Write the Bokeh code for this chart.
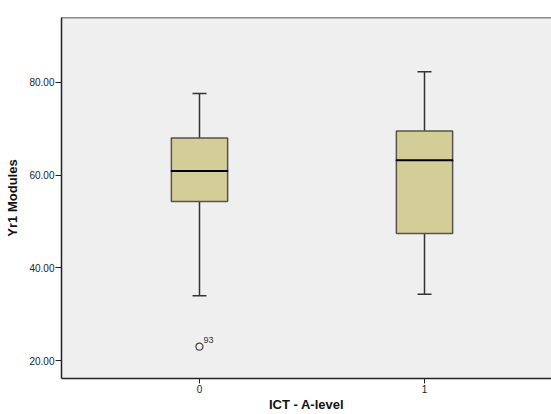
from bokeh.plotting import figure
from bokeh.models import FixedTicker, PrintfTickFormatter, Span, ColumnDataSource, Range1d
from bokeh.embed import file_html
from bokeh.resources import INLINE

# data
categories = ["0", "1"]
xpos = [0, 1]
q1 = [54.3, 47.4]
median = [60.9, 63.2]
q3 = [68.0, 69.5]
lower = [34.0, 34.3]
upper = [77.6, 82.3]
outlier_x = [0]
outlier_y = [23.0]
outlier_label = ["93"]
y_ticks = [20, 40, 60, 80]

box_w = 0.25
cap_w = 0.062

p = figure(width=551, height=414, output_backend="svg", toolbar_location=None,
           x_range=Range1d(-0.6133, 1.5644), y_range=Range1d(16.13, 93.98),
           min_border_left=61, min_border_top=17, min_border_right=0, min_border_bottom=35)
p.background_fill_color = "#EFEFEF"
p.border_fill_color = "white"
p.outline_line_color = None
p.xgrid.visible = False
p.ygrid.visible = False

src = ColumnDataSource(dict(x=xpos, q1=q1, med=median, q3=q3, lo=lower, hi=upper,
                            cl=[x - cap_w / 2 for x in xpos], cr=[x + cap_w / 2 for x in xpos]))

# whiskers
p.segment(x0="x", y0="q3", x1="x", y1="hi", source=src, line_color="#333333", line_width=1.5)
p.segment(x0="x", y0="lo", x1="x", y1="q1", source=src, line_color="#333333", line_width=1.5)
p.segment(x0="cl", y0="hi", x1="cr", y1="hi", source=src, line_color="#333333", line_width=1.5)
p.segment(x0="cl", y0="lo", x1="cr", y1="lo", source=src, line_color="#333333", line_width=1.5)
# boxes
p.vbar(x="x", bottom="q1", top="q3", width=box_w, source=src,
       fill_color="#D3CE97", line_color="#55534A", line_width=1.5)
# medians
p.rect(x="x", y="med", width=box_w, height=0.0001, source=src, line_color="black", line_width=2)

# outliers
osrc = ColumnDataSource(dict(x=outlier_x, y=outlier_y, t=outlier_label))
p.scatter(x="x", y="y", source=osrc, marker="circle", size=7, fill_color=None,
          line_color="#444444", line_width=1.2)
p.text(x="x", y="y", text="t", source=osrc, x_offset=4, y_offset=-4,
       text_font_size="9px", text_color="#333333", text_baseline="bottom",
       text_font={"value": "Liberation Sans"})

# top border
p.add_layout(Span(location=93.98, dimension="width", line_color="#222222", line_width=1.5))

# axes
p.yaxis.ticker = FixedTicker(ticks=y_ticks)
p.yaxis.formatter = PrintfTickFormatter(format="%.2f")
p.yaxis.minor_tick_line_color = None
p.yaxis.major_tick_in = 0
p.yaxis.major_tick_out = 6
p.yaxis.axis_label = "Yr1 Modules"
p.xaxis.ticker = FixedTicker(ticks=xpos)
p.xaxis.major_label_overrides = {x: c for x, c in zip(xpos, categories)}
p.xaxis.minor_tick_line_color = None
p.xaxis.major_tick_in = 0
p.xaxis.major_tick_out = 5
p.xaxis.axis_label = "ICT - A-level"
for ax in (p.xaxis, p.yaxis):
    ax.axis_line_color = "#222222"
    ax.axis_line_width = 1.5
    ax.major_tick_line_color = "#222222"
    ax.major_label_text_font = "Liberation Sans"
    ax.major_label_text_font_size = "10px"
    ax.major_label_text_color = "#222222"
    ax.axis_label_text_font = "Liberation Sans"
    ax.axis_label_text_font_size = "13px"
    ax.axis_label_text_font_style = "bold"
    ax.axis_label_text_color = "#111111"
p.xaxis.major_label_standoff = 1
p.xaxis.axis_label_standoff = 1
p.yaxis.major_label_standoff = 1
p.yaxis.axis_label_standoff = 6

open("out.html", "w").write(file_html(p, INLINE))
